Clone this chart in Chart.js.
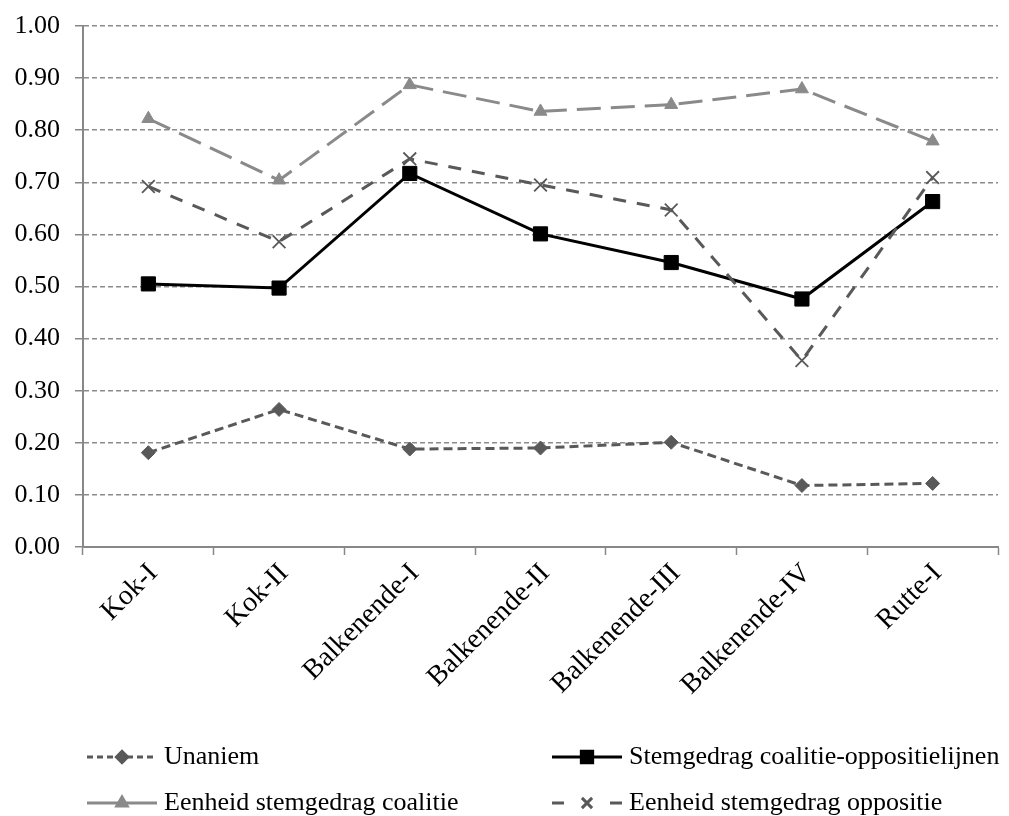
<!DOCTYPE html>
<html>
<head>
<meta charset="utf-8">
<script src="https://cdn.jsdelivr.net/npm/chart.js@4/dist/chart.umd.min.js"></script>
<style>
  html, body { margin: 0; padding: 0; background: #fff; }
  #wrap { width: 1009px; height: 816px; }
</style>
</head>
<body>
<div id="wrap"><canvas id="chart" width="1009" height="816"></canvas></div>
<script>
// waarden
var kabinetten = ['Kok-I', 'Kok-II', 'Balkenende-I', 'Balkenende-II', 'Balkenende-III', 'Balkenende-IV', 'Rutte-I'];
var unaniem = [0.181, 0.264, 0.188, 0.190, 0.201, 0.118, 0.122];
var coalitieOppositie = [0.505, 0.497, 0.717, 0.601, 0.546, 0.476, 0.663];
var eenheidCoalitie = [0.822, 0.704, 0.887, 0.836, 0.849, 0.879, 0.779];
var eenheidOppositie = [0.692, 0.586, 0.745, 0.695, 0.647, 0.358, 0.709];
var yTicks = [0, 0.1, 0.2, 0.3, 0.4, 0.5, 0.6, 0.7, 0.8, 0.9, 1.0];

var serif = "'Liberation Serif', 'Times New Roman', serif";

// legenda in twee kolommen onder de grafiek
var legendPlugin = {
	id: 'tweeKolommen',
	afterDraw: function (chart) {
		var ctx = chart.ctx;
		var pos = [[87, 757], [552, 757], [87, 803], [552, 803]];
		chart.data.datasets.forEach(function (ds, k) {
			var x = pos[k][0], y = pos[k][1];
			ctx.save();
			ctx.strokeStyle = ds.borderColor;
			ctx.lineWidth = ds.borderWidth;
			ctx.setLineDash(ds.legendDash || []);
			ctx.beginPath();
			ctx.moveTo(x, y);
			ctx.lineTo(x + 70, y);
			ctx.stroke();
			ctx.setLineDash([]);
			ctx.fillStyle = ds.pointBackgroundColor;
			ctx.strokeStyle = ds.pointBorderColor;
			Chart.helpers.drawPoint(ctx, {
				pointStyle: ds.pointStyle,
				radius: ds.pointRadius * 0.8,
				rotation: 0,
				borderWidth: ds.pointBorderWidth
			}, x + 35, y);
			ctx.fillStyle = '#000';
			ctx.font = '26px ' + serif;
			ctx.textBaseline = 'middle';
			ctx.textAlign = 'left';
			ctx.fillText(ds.label, x + 77, y);
			ctx.restore();
		});
	}
};

var ctx = document.getElementById('chart').getContext('2d');
var chart = new Chart(ctx, {
	type: 'line',
	data: {
		labels: kabinetten,
		datasets: [{
			label: 'Unaniem',
			data: unaniem,
			borderColor: '#595959',
			borderWidth: 3,
			borderDash: [9, 5],
			legendDash: [6, 4],
			pointStyle: 'rectRot',
			pointRadius: 7,
			pointBackgroundColor: '#595959',
			pointBorderColor: '#595959',
			pointBorderWidth: 1,
			order: 4
		}, {
			label: 'Stemgedrag coalitie-oppositielijnen',
			data: coalitieOppositie,
			borderColor: '#000000',
			borderWidth: 3,
			pointStyle: 'rect',
			pointRadius: 10,
			pointBackgroundColor: '#000000',
			pointBorderColor: '#000000',
			pointBorderWidth: 1,
			order: 3
		}, {
			label: 'Eenheid stemgedrag coalitie',
			data: eenheidCoalitie,
			borderColor: '#8a8a8a',
			borderWidth: 3,
			borderDash: [24, 10],
			legendDash: [],
			pointStyle: 'triangle',
			pointRadius: 7.5,
			pointBackgroundColor: '#8a8a8a',
			pointBorderColor: '#8a8a8a',
			pointBorderWidth: 1,
			order: 2
		}, {
			label: 'Eenheid stemgedrag oppositie',
			data: eenheidOppositie,
			borderColor: '#595959',
			borderWidth: 3,
			borderDash: [13, 11],
			legendDash: [12, 46],
			pointStyle: 'crossRot',
			pointRadius: 9,
			pointBackgroundColor: '#595959',
			pointBorderColor: '#595959',
			pointBorderWidth: 1.8,
			order: 1
		}]
	},
	options: {
		responsive: false,
		animation: false,
		devicePixelRatio: 1,
		layout: { padding: { top: 26, right: 11, left: 0, bottom: 0 } },
		plugins: {
			legend: { display: false },
			tooltip: { enabled: false }
		},
		elements: { line: { tension: 0, fill: false } },
		scales: {
			x: {
				offset: true,
				grid: {
					offset: true,
					drawOnChartArea: false,
					drawTicks: true,
					tickLength: 8,
					tickColor: '#888',
					tickWidth: 1.5
				},
				border: { color: '#888', width: 2 },
				ticks: {
					minRotation: 45,
					maxRotation: 45,
					padding: 2,
					labelOffset: 5,
					color: '#000',
					font: { family: serif, size: 28 }
				},
				afterFit: function (scale) { scale.height = 816 - 547; }
			},
			y: {
				min: 0,
				max: 1,
				afterBuildTicks: function (scale) {
					scale.ticks = yTicks.map(function (v) { return { value: v }; });
				},
				grid: {
					color: '#8c8c8c',
					lineWidth: 1.5,
					tickLength: 8,
					tickColor: '#888',
					tickWidth: 1.5,
					tickBorderDash: []
				},
				border: { color: '#888', width: 2, dash: [5, 3] },
				ticks: {
					padding: 15,
					color: '#000',
					font: { family: serif, size: 26, lineHeight: 0.8 },
					callback: function (v) { return Number(v).toFixed(2); }
				},
				afterFit: function (scale) { scale.width = 83; }
			}
		}
	},
	plugins: [legendPlugin]
});
</script>
</body>
</html>
